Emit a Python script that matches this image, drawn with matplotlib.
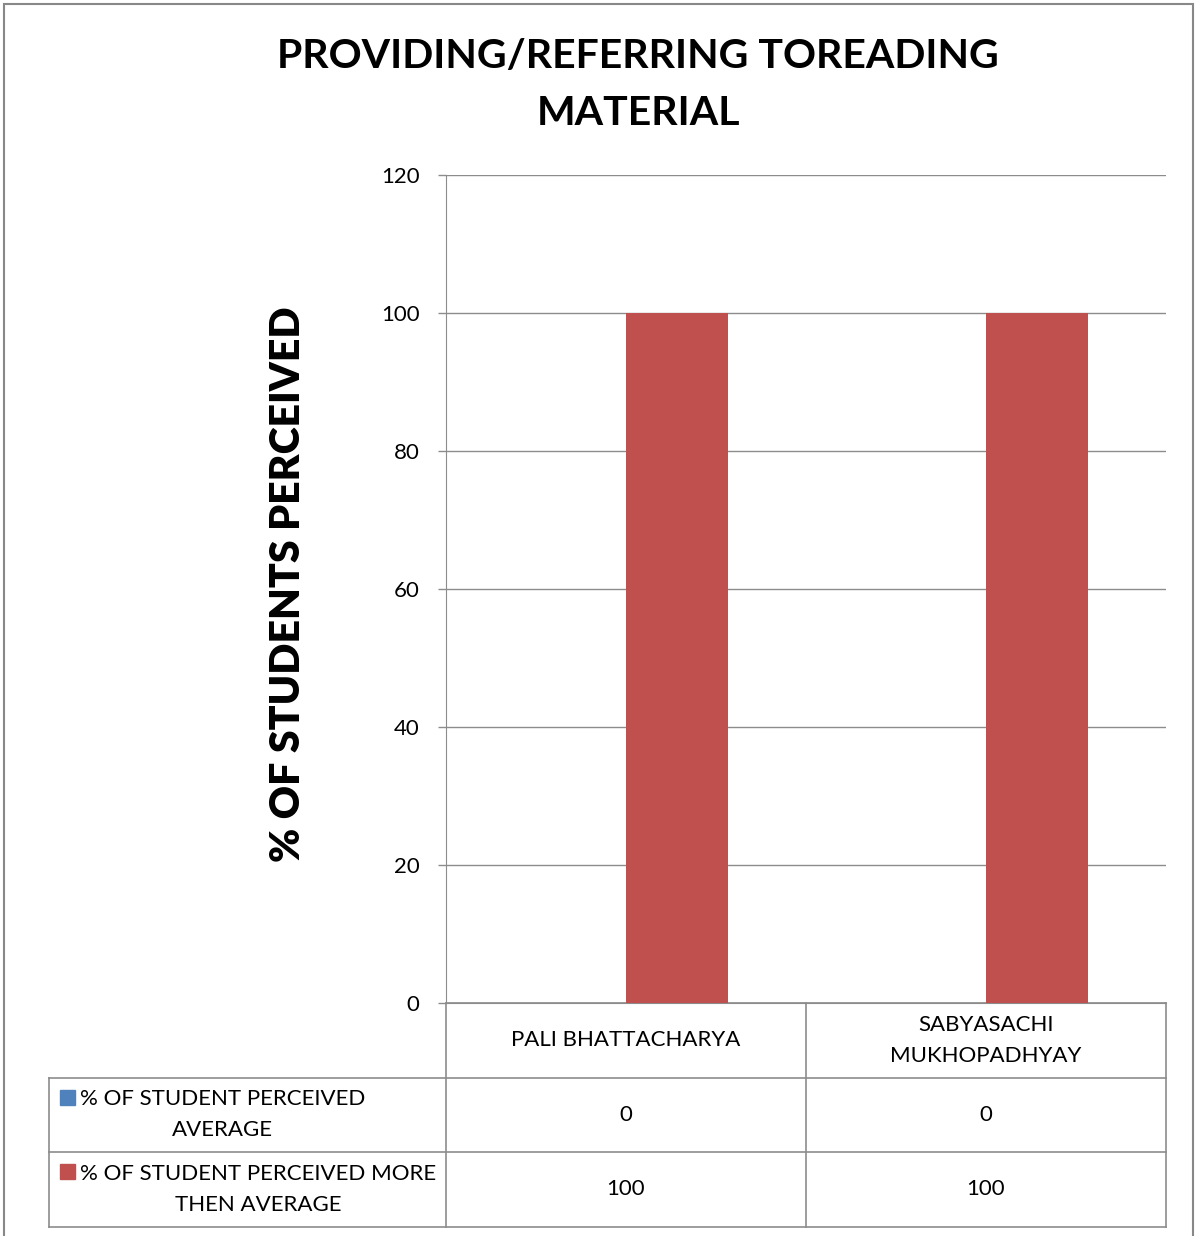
import matplotlib
matplotlib.use("Agg")
import matplotlib.pyplot as plt
from matplotlib.patches import Rectangle

# chart data
categories = ["PALI BHATTACHARYA", "SABYASACHI\nMUKHOPADHYAY"]
series_names = ["% OF STUDENT PERCEIVED\nAVERAGE",
                "% OF STUDENT PERCEIVED MORE\nTHEN AVERAGE"]
average = [0, 0]
more_than_average = [100, 100]
series_values = [average, more_than_average]
series_colors = ["#4F81BD", "#C0504D"]
y_ticks = [0, 20, 40, 60, 80, 100, 120]

W, H = 1195, 1236
plt.rcParams["font.family"] = ["Lato", "DejaVu Sans"]
grid_col = "#8C8C8C"

fig = plt.figure(figsize=(W / 100, H / 100), dpi=100)
ax = fig.add_axes([446 / W, 1 - 1003 / H, 720 / W, 828 / H])

bar_w = 102 / 360
xs = list(range(len(categories)))
for i, (vals, col) in enumerate(zip(series_values, series_colors)):
    offset = (i - 0.5) * bar_w
    ax.bar([x + offset for x in xs], vals, width=bar_w, color=col, zorder=3)

ax.set_xlim(-0.5, len(categories) - 0.5)
ax.set_ylim(0, 120)
ax.set_yticks(y_ticks)
ax.yaxis.grid(True, color=grid_col, linewidth=1)
ax.set_axisbelow(True)
ax.set_xticks([])
ax.tick_params(axis="y", length=6, width=1, color=grid_col, pad=13, labelsize=16)
for side in ["top", "right"]:
    ax.spines[side].set_visible(False)
for side in ["left", "bottom"]:
    ax.spines[side].set_color(grid_col)

# data table under the plot
row_h = 74.5 / 828
left_edge = -0.5 - 397 / 360
tr = ax.get_xaxis_transform()
lkw = dict(color=grid_col, linewidth=1.2, transform=tr, clip_on=False)
n_rows = len(series_names)
bottom = -(n_rows + 1) * row_h
ax.plot([-0.5, len(categories) - 0.5], [0, 0], **lkw)
for r in range(1, n_rows + 2):
    ax.plot([left_edge, len(categories) - 0.5], [-r * row_h] * 2, **lkw)
for c in range(len(categories) + 1):
    ax.plot([c - 0.5] * 2, [0, bottom], **lkw)
ax.plot([left_edge] * 2, [-row_h, bottom], **lkw)

for c, cat in enumerate(categories):
    ax.text(c, -0.5 * row_h, cat, transform=tr, ha="center", va="center",
            fontsize=16, linespacing=1.7)
for r, (name, vals, col) in enumerate(zip(series_names, series_values, series_colors)):
    yc = -(r + 1.5) * row_h
    for c, v in enumerate(vals):
        ax.text(c, yc, f"{v}", transform=tr, ha="center", va="center", fontsize=16)
    ax.text(left_edge + 31 / 360, yc, name, transform=tr, ha="left", va="center",
            fontsize=16, multialignment="center", linespacing=1.7)
    ax.add_patch(Rectangle((left_edge + 11 / 360, yc + 10 / 828), 15 / 360,
                           15 / 828, transform=tr, color=col, clip_on=False))

fig.text(638 / W, 1 - 85 / H, "PROVIDING/REFERRING TOREADING\nMATERIAL",
         ha="center", va="center", fontsize=29.5, fontweight="bold", linespacing=1.66)
fig.text(288 / W, 1 - 584 / H, "% OF STUDENTS PERCEIVED", rotation=90,
         ha="center", va="center", fontsize=29.5, fontweight="heavy")

fig.add_artist(Rectangle((4 / W, -0.01), 1189 / W, 1 - 4 / H + 0.01,
                         transform=fig.transFigure, fill=False,
                         edgecolor="#888888", linewidth=1.5))

fig.savefig("out.png", dpi=100)
